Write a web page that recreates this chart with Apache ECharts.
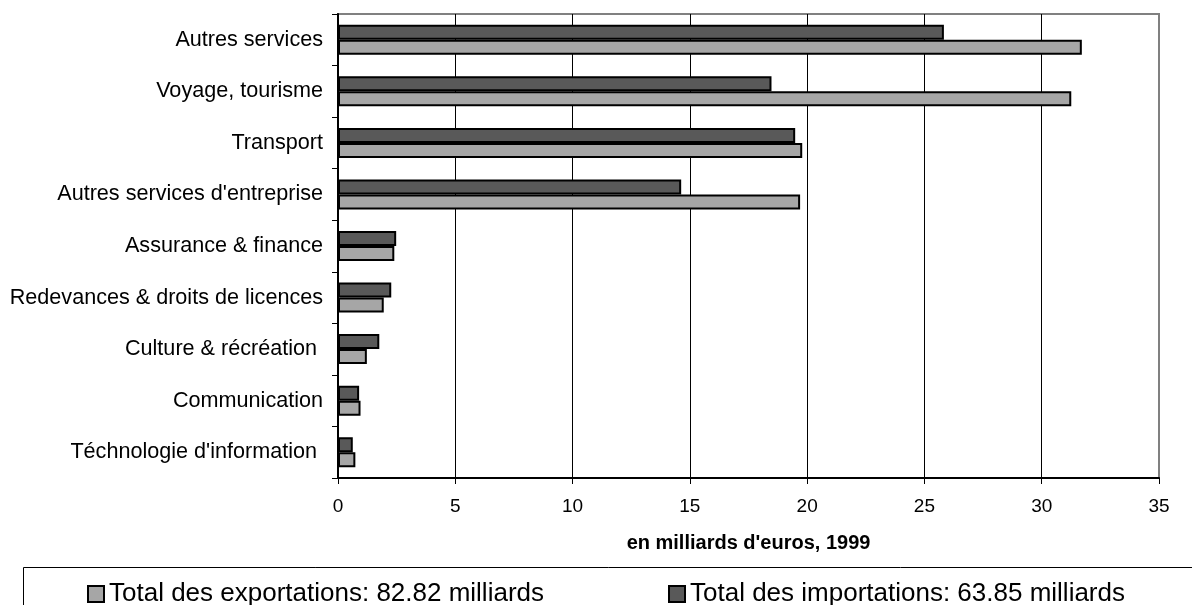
<!DOCTYPE html>
<html>
<head>
<meta charset="utf-8">
<script src="https://cdn.jsdelivr.net/npm/echarts@6/dist/echarts.min.js"></script>
<style>
  html, body { margin: 0; padding: 0; background: #fff; }
  #chart { width: 1192px; height: 605px; }
</style>
</head>
<body>
<div id="chart"></div>
<script>
// Service categories, listed from the bottom of the axis to the top
const categories = [
  "Téchnologie d'information ",
  "Communication",
  "Culture & récréation ",
  "Redevances & droits de licences",
  "Assurance & finance",
  "Autres services d'entreprise",
  "Transport",
  "Voyage, tourisme",
  "Autres services"
];

// Values in billions of euros, 1999
const exportsValues = [0.74, 0.96, 1.23, 1.95, 2.40, 19.70, 19.79, 31.26, 31.71];
const importsValues = [0.63, 0.90, 1.76, 2.27, 2.48, 14.63, 19.49, 18.48, 25.83];

const exportsName = "Total des exportations: 82.82 milliards";
const importsName = "Total des importations: 63.85 milliards";

const axisTitle = "en milliards d'euros, 1999";
const xTicks = { min: 0, max: 35, interval: 5 };

const FONT = "'Liberation Sans', Arial, sans-serif";

const chart = echarts.init(document.getElementById('chart'), null, { renderer: 'canvas' });

chart.setOption({
  animation: false,
  backgroundColor: '#ffffff',
  textStyle: { fontFamily: FONT, color: '#000' },
  grid: {
    left: 338, right: 33, top: 14, bottom: 127,
    show: true,
    borderColor: '#808080',
    borderWidth: 2,
    backgroundColor: 'transparent'
  },
  xAxis: {
    type: 'value',
    min: xTicks.min,
    max: xTicks.max,
    interval: xTicks.interval,
    name: axisTitle,
    nameLocation: 'middle',
    nameGap: 55,
    nameTextStyle: { fontFamily: FONT, fontSize: 20, fontWeight: 'bold', color: '#000' },
    axisLine: { show: true, lineStyle: { color: '#000', width: 2 } },
    axisTick: { show: true, length: 6, lineStyle: { color: '#000', width: 1 } },
    axisLabel: { fontFamily: FONT, fontSize: 19, color: '#000', margin: 19 },
    splitLine: { show: true, showMinLine: false, showMaxLine: false, lineStyle: { color: '#000', width: 1 } }
  },
  yAxis: {
    type: 'category',
    data: categories,
    axisLine: { show: true, lineStyle: { color: '#000', width: 2 } },
    axisTick: { show: true, length: 6, alignWithLabel: false, lineStyle: { color: '#000', width: 1 } },
    axisLabel: { fontFamily: FONT, fontSize: 21.6, color: '#000', margin: 15 },
    splitLine: { show: false }
  },
  legend: {
    left: 82,
    top: 576,
    itemWidth: 16,
    itemHeight: 16,
    itemGap: 124,
    icon: 'rect',
    textStyle: { fontFamily: FONT, fontSize: 26, color: '#000' },
    itemStyle: { borderColor: '#000', borderWidth: 2 },
    data: [exportsName, importsName]
  },
  graphic: [{
    type: 'rect',
    shape: { x: 23.5, y: 567.5, width: 1200, height: 60 },
    style: { fill: 'none', stroke: '#000', lineWidth: 1 },
    silent: true
  }],
  series: [
    {
      name: importsName,
      type: 'bar',
      data: importsValues,
      barWidth: 15,
      barGap: '0%',
      itemStyle: { color: '#595959', borderColor: '#000', borderWidth: 2 }
    },
    {
      name: exportsName,
      type: 'bar',
      data: exportsValues,
      barWidth: 15,
      barGap: '0%',
      itemStyle: { color: '#a6a6a6', borderColor: '#000', borderWidth: 2 }
    }
  ]
});
</script>
</body>
</html>
